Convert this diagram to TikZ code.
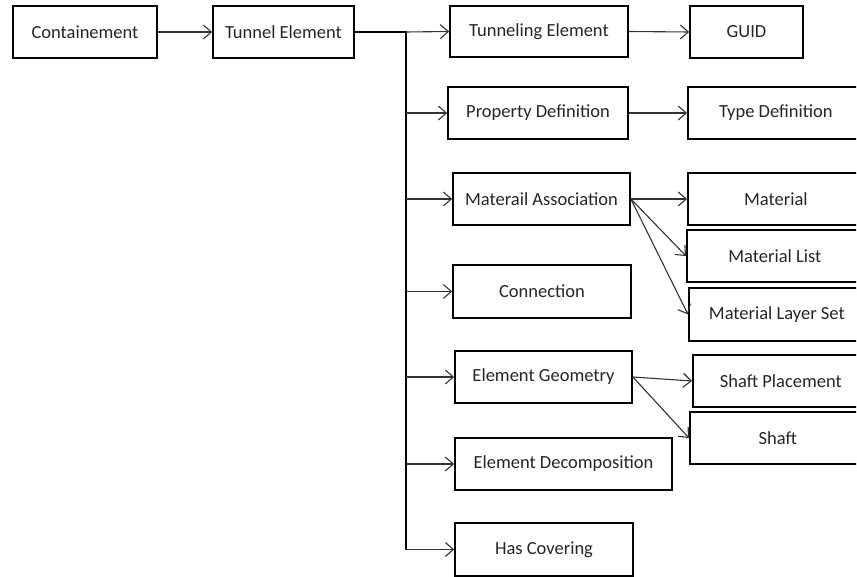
\documentclass[tikz,border=0pt]{standalone}
\usepackage{fontspec}
\setmainfont{Carlito}
\usetikzlibrary{arrows.meta}
\tikzset{
  box/.style={draw=black, line width=1.7pt, rectangle, fill=white,
    minimum height=52pt, inner sep=0pt,
    font=\fontsize{18.5}{21}\selectfont, text=black!85},
  % boxes of the last column run past the right edge
  openbox/.style={box, minimum width=210pt, anchor=west},
  link/.style={draw=black!80, line width=1.1pt,
    -{Straight Barb[length=8pt,width=14pt,line width=1.1pt]}},
  trunk/.style={draw=black, line width=2.2pt}
}
% pad the right side so the label sits left of the box centre
\newcommand{\padr}[1]{#1\hspace*{34pt}}
\begin{document}
\begin{tikzpicture}[x=1pt,y=-1pt]
\useasboundingbox (0,0) rectangle (857,577);
\clip (0,0) rectangle (856,577);

% first row
\node[box, minimum width=144pt] (cont) at (85,32) {Containement};
\node[box, minimum width=141pt] (tunnel) at (283.5,32) {Tunnel Element};

% children of the tunnel element
\node[box, minimum width=178pt, minimum height=51pt] (tunneling) at (539,31.5) {Tunneling Element};
\node[box, minimum width=180pt] (prop) at (538,113) {Property Definition};
\node[box, minimum width=177pt] (assoc) at (541.5,199) {Materail Association};
\node[box, minimum width=178pt, minimum height=53pt] (conn) at (542,291.5) {Connection};
\node[box, minimum width=177pt] (geom) at (543.5,377) {Element Geometry};
\node[box, minimum width=217pt] (decomp) at (563.5,464) {Element Decomposition};
\node[box, minimum width=178pt, minimum height=53pt] (cover) at (544,549.5) {Has Covering};

% third column
\node[box, minimum width=113pt] (guid) at (746.5,32) {GUID};
\node[openbox] (type) at (687,113) {\padr{Type Definition}};
\node[openbox] (mat) at (687,199) {\padr{Material}};
\node[openbox] (matlist) at (686,256) {\padr{Material List}};
\node[openbox, minimum height=53pt] (layerset) at (688,314.5) {\padr{Material Layer Set}};
\node[openbox] (placement) at (692,381) {\padr{Shaft Placement}};
\node[openbox] (shaft) at (689,438) {\padr{Shaft}};

% trunk from the tunnel element
\coordinate (t0) at (406,32);
\coordinate (t1) at (406,113);
\coordinate (t2) at (406,199);
\coordinate (t3) at (406,291.5);
\coordinate (t4) at (406,377);
\coordinate (t5) at (406,464);
\coordinate (t6) at (406,549.5);
\draw[trunk] (tunnel.east) -- (t0) -- (t6);

% connectors
\draw[link] (cont.east) -- (tunnel.west);
\draw[link] (t0) -- (tunneling.west);
\draw[link] (t1) -- (prop.west);
\draw[link] (t2) -- (assoc.west);
\draw[link] (t3) -- (conn.west);
\draw[link] (t4) -- (geom.west);
\draw[link] (t5) -- (decomp.west);
\draw[link] (t6) -- (cover.west);

\draw[link] (tunneling.east) -- (guid.west);
\draw[link] (prop.east) -- (type.west);
\draw[link] (assoc.east) -- (mat.west);
\draw[link] (assoc.east) -- (matlist.west);
\draw[link] (assoc.east) -- (layerset.west);
\draw[link] (geom.east) -- (placement.west);
\draw[link] (geom.east) -- (shaft.west);
\end{tikzpicture}
\end{document}
